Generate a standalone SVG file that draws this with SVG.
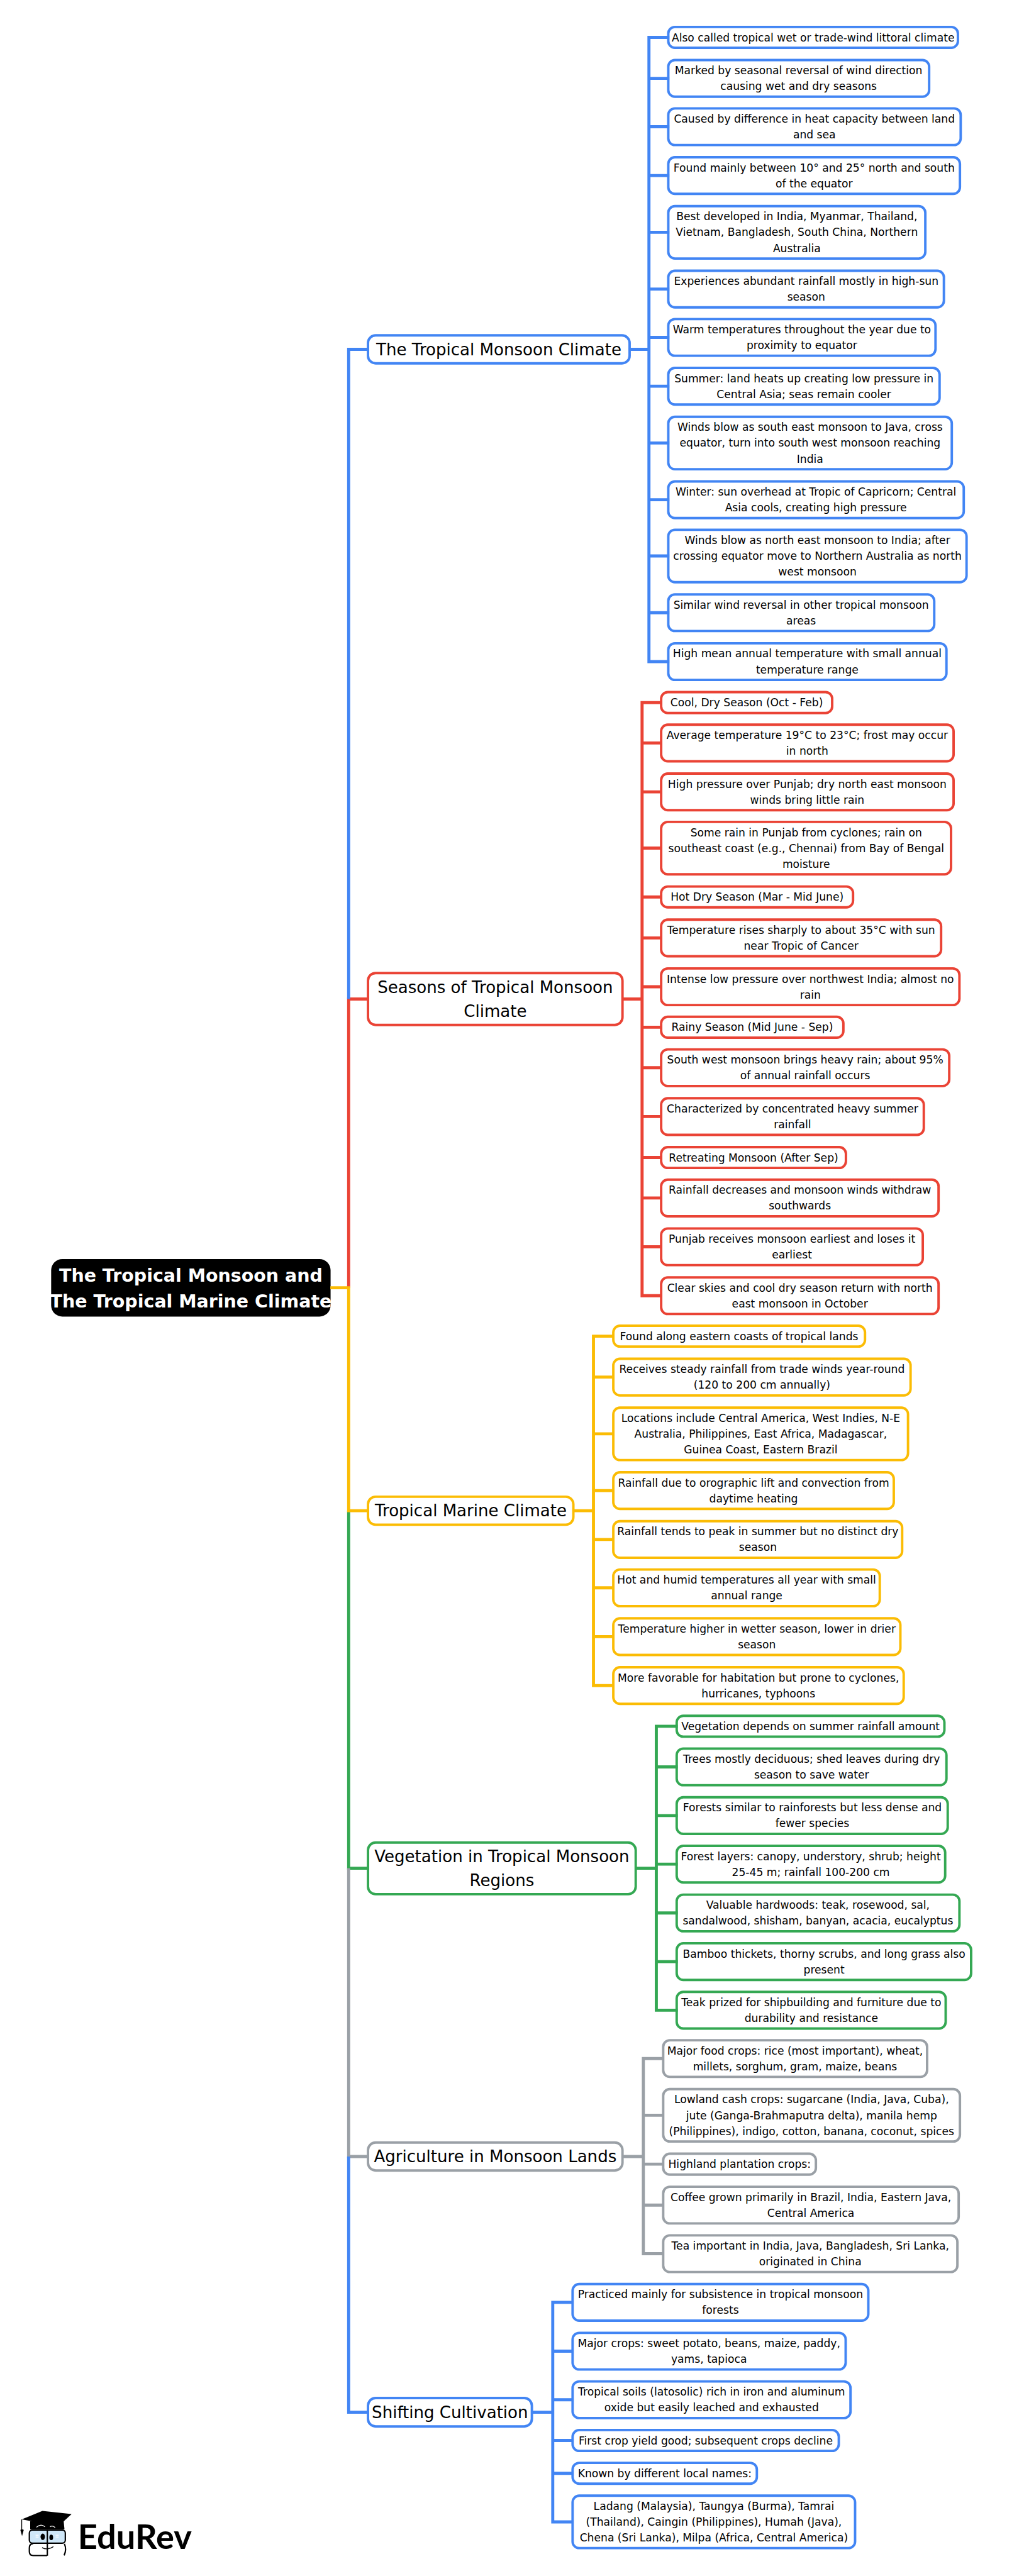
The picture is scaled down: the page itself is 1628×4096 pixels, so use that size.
<svg xmlns="http://www.w3.org/2000/svg" width="1628" height="4096" viewBox="0 0 1628 4096">
<style>
text{font-family:"DejaVu Sans","Liberation Sans",sans-serif;fill:#000;text-anchor:middle}
.s{font-size:21.2px}
.m{font-size:32.2px}
.rt{font-size:35.2px;font-weight:700;fill:#fff}
.lg{font-family:Lato,"Open Sans",sans-serif;font-size:67px;font-weight:700;text-anchor:start}
rect{fill:#fff;stroke-width:4.8}
.b rect{stroke:#4285F4}.r rect{stroke:#EA4335}.y rect{stroke:#FBBC04}.g rect{stroke:#34A853}.a rect{stroke:#9AA0A6}
#connectors path{fill:none;stroke-width:6;stroke-linejoin:miter}
.cb{stroke:#4285F4}.cr{stroke:#EA4335}.cy{stroke:#FBBC04}.cg{stroke:#34A853}.ca{stroke:#9AA0A6}
</style>
<rect width="1628" height="4096" style="fill:#fff;stroke:none"/>
<g transform="scale(.8092)">
<g id="root"><rect x="100.5" y="2474" width="549" height="113" rx="22" style="fill:#000;stroke:none"/><text class="rt" x="375" y="2518"><tspan x="375">The Tropical Monsoon and</tspan><tspan x="375" dy="51.5">The Tropical Marine Climate</tspan></text></g>

<g class="b">
<g id="monsoon"><rect x="723" y="659" width="514" height="55" rx="15"/><text class="m" x="980" y="698">The Tropical Monsoon Climate</text></g>
<g id="b1"><rect x="1313" y="53" width="569" height="41" rx="13"/><text class="s" x="1597.5" y="81">Also called tropical wet or trade-wind littoral climate</text></g>
<g id="b2"><rect x="1313" y="118" width="512.5" height="72" rx="13"/><text class="s" y="146"><tspan x="1569">Marked by seasonal reversal of wind direction</tspan><tspan x="1569" dy="31">causing wet and dry seasons</tspan></text></g>
<g id="b3"><rect x="1313" y="213" width="574.5" height="72" rx="13"/><text class="s" y="241"><tspan x="1600">Caused by difference in heat capacity between land</tspan><tspan x="1600" dy="31">and sea</tspan></text></g>
<g id="b4"><rect x="1313" y="309" width="573" height="72" rx="13"/><text class="s" y="337"><tspan x="1599.5">Found mainly between 10° and 25° north and south</tspan><tspan x="1599.5" dy="31">of the equator</tspan></text></g>
<g id="b5"><rect x="1313" y="405" width="505" height="103" rx="13"/><text class="s" y="433"><tspan x="1565.5">Best developed in India, Myanmar, Thailand,</tspan><tspan x="1565.5" dy="31">Vietnam, Bangladesh, South China, Northern</tspan><tspan x="1565.5" dy="31">Australia</tspan></text></g>
<g id="b6"><rect x="1313" y="532" width="541.5" height="72" rx="13"/><text class="s" y="560"><tspan x="1584">Experiences abundant rainfall mostly in high-sun</tspan><tspan x="1584" dy="31">season</tspan></text></g>
<g id="b7"><rect x="1313" y="627" width="525" height="72" rx="13"/><text class="s" y="655"><tspan x="1575.5">Warm temperatures throughout the year due to</tspan><tspan x="1575.5" dy="31">proximity to equator</tspan></text></g>
<g id="b8"><rect x="1313" y="723" width="533" height="72" rx="13"/><text class="s" y="751"><tspan x="1579.5">Summer: land heats up creating low pressure in</tspan><tspan x="1579.5" dy="31">Central Asia; seas remain cooler</tspan></text></g>
<g id="b9"><rect x="1313" y="819" width="557" height="103" rx="13"/><text class="s" y="847"><tspan x="1591.5">Winds blow as south east monsoon to Java, cross</tspan><tspan x="1591.5" dy="31">equator, turn into south west monsoon reaching</tspan><tspan x="1591.5" dy="31">India</tspan></text></g>
<g id="b10"><rect x="1313" y="946" width="580.5" height="72" rx="13"/><text class="s" y="974"><tspan x="1603">Winter: sun overhead at Tropic of Capricorn; Central</tspan><tspan x="1603" dy="31">Asia cools, creating high pressure</tspan></text></g>
<g id="b11"><rect x="1313" y="1041" width="586" height="103" rx="13"/><text class="s" y="1069"><tspan x="1606">Winds blow as north east monsoon to India; after</tspan><tspan x="1606" dy="31">crossing equator move to Northern Australia as north</tspan><tspan x="1606" dy="31">west monsoon</tspan></text></g>
<g id="b12"><rect x="1313" y="1168" width="522.5" height="72" rx="13"/><text class="s" y="1196"><tspan x="1574">Similar wind reversal in other tropical monsoon</tspan><tspan x="1574" dy="31">areas</tspan></text></g>
<g id="b13"><rect x="1313" y="1264" width="546.5" height="72" rx="13"/><text class="s" y="1292"><tspan x="1586">High mean annual temperature with small annual</tspan><tspan x="1586" dy="31">temperature range</tspan></text></g>
</g>

<g class="r">
<g id="seasons"><rect x="723" y="1912" width="500" height="102" rx="15"/><text class="m" y="1951"><tspan x="973">Seasons of Tropical Monsoon</tspan><tspan x="973" dy="47">Climate</tspan></text></g>
<g id="r1"><rect x="1299" y="1360" width="336" height="41" rx="13"/><text class="s" x="1467" y="1388">Cool, Dry Season (Oct - Feb)</text></g>
<g id="r2"><rect x="1299" y="1424" width="574.5" height="72" rx="13"/><text class="s" y="1452"><tspan x="1586">Average temperature 19°C to 23°C; frost may occur</tspan><tspan x="1586" dy="31">in north</tspan></text></g>
<g id="r3"><rect x="1299" y="1520" width="574.5" height="72" rx="13"/><text class="s" y="1548"><tspan x="1586">High pressure over Punjab; dry north east monsoon</tspan><tspan x="1586" dy="31">winds bring little rain</tspan></text></g>
<g id="r4"><rect x="1299" y="1615" width="569.5" height="103" rx="13"/><text class="s" y="1643"><tspan x="1584">Some rain in Punjab from cyclones; rain on</tspan><tspan x="1584" dy="31">southeast coast (e.g., Chennai) from Bay of Bengal</tspan><tspan x="1584" dy="31">moisture</tspan></text></g>
<g id="r5"><rect x="1299" y="1742" width="377" height="41" rx="13"/><text class="s" x="1487.5" y="1770">Hot Dry Season (Mar - Mid June)</text></g>
<g id="r6"><rect x="1299" y="1807" width="550" height="72" rx="13"/><text class="s" y="1835"><tspan x="1574">Temperature rises sharply to about 35°C with sun</tspan><tspan x="1574" dy="31">near Tropic of Cancer</tspan></text></g>
<g id="r7"><rect x="1299" y="1903" width="586" height="72" rx="13"/><text class="s" y="1931"><tspan x="1592">Intense low pressure over northwest India; almost no</tspan><tspan x="1592" dy="31">rain</tspan></text></g>
<g id="r8"><rect x="1299" y="1998" width="358" height="41" rx="13"/><text class="s" x="1478" y="2026">Rainy Season (Mid June - Sep)</text></g>
<g id="r9"><rect x="1299" y="2062" width="566" height="72" rx="13"/><text class="s" y="2090"><tspan x="1582">South west monsoon brings heavy rain; about 95%</tspan><tspan x="1582" dy="31">of annual rainfall occurs</tspan></text></g>
<g id="r10"><rect x="1299" y="2158" width="516" height="72" rx="13"/><text class="s" y="2186"><tspan x="1557">Characterized by concentrated heavy summer</tspan><tspan x="1557" dy="31">rainfall</tspan></text></g>
<g id="r11"><rect x="1299" y="2254" width="363" height="41" rx="13"/><text class="s" x="1480.5" y="2282">Retreating Monsoon (After Sep)</text></g>
<g id="r12"><rect x="1299" y="2318" width="545" height="72" rx="13"/><text class="s" y="2346"><tspan x="1571.5">Rainfall decreases and monsoon winds withdraw</tspan><tspan x="1571.5" dy="31">southwards</tspan></text></g>
<g id="r13"><rect x="1299" y="2414" width="514" height="72" rx="13"/><text class="s" y="2442"><tspan x="1556">Punjab receives monsoon earliest and loses it</tspan><tspan x="1556" dy="31">earliest</tspan></text></g>
<g id="r14"><rect x="1299" y="2510" width="545" height="72" rx="13"/><text class="s" y="2538"><tspan x="1571.5">Clear skies and cool dry season return with north</tspan><tspan x="1571.5" dy="31">east monsoon in October</tspan></text></g>
</g>

<g class="y">
<g id="marine"><rect x="723" y="2941" width="403.5" height="55" rx="15"/><text class="m" x="925" y="2980">Tropical Marine Climate</text></g>
<g id="y1"><rect x="1205" y="2605" width="494.5" height="41" rx="13"/><text class="s" x="1452" y="2633">Found along eastern coasts of tropical lands</text></g>
<g id="y2"><rect x="1205" y="2670" width="584" height="72" rx="13"/><text class="s" y="2698"><tspan x="1497">Receives steady rainfall from trade winds year-round</tspan><tspan x="1497" dy="31">(120 to 200 cm annually)</tspan></text></g>
<g id="y3"><rect x="1205" y="2766" width="579" height="103" rx="13"/><text class="s" y="2794"><tspan x="1494.5">Locations include Central America, West Indies, N-E</tspan><tspan x="1494.5" dy="31">Australia, Philippines, East Africa, Madagascar,</tspan><tspan x="1494.5" dy="31">Guinea Coast, Eastern Brazil</tspan></text></g>
<g id="y4"><rect x="1205" y="2893" width="551" height="72" rx="13"/><text class="s" y="2921"><tspan x="1480.5">Rainfall due to orographic lift and convection from</tspan><tspan x="1480.5" dy="31">daytime heating</tspan></text></g>
<g id="y5"><rect x="1205" y="2989" width="567.5" height="72" rx="13"/><text class="s" y="3017"><tspan x="1489">Rainfall tends to peak in summer but no distinct dry</tspan><tspan x="1489" dy="31">season</tspan></text></g>
<g id="y6"><rect x="1205" y="3084" width="523.5" height="72" rx="13"/><text class="s" y="3112"><tspan x="1467">Hot and humid temperatures all year with small</tspan><tspan x="1467" dy="31">annual range</tspan></text></g>
<g id="y7"><rect x="1205" y="3180" width="564" height="72" rx="13"/><text class="s" y="3208"><tspan x="1487">Temperature higher in wetter season, lower in drier</tspan><tspan x="1487" dy="31">season</tspan></text></g>
<g id="y8"><rect x="1205" y="3276" width="570.5" height="72" rx="13"/><text class="s" y="3304"><tspan x="1490">More favorable for habitation but prone to cyclones,</tspan><tspan x="1490" dy="31">hurricanes, typhoons</tspan></text></g>
</g>

<g class="g">
<g id="vegetation"><rect x="723" y="3620.5" width="526" height="101.5" rx="15"/><text class="m" y="3659"><tspan x="986">Vegetation in Tropical Monsoon</tspan><tspan x="986" dy="47">Regions</tspan></text></g>
<g id="g1"><rect x="1329.5" y="3371.5" width="526" height="41" rx="13"/><text class="s" x="1592.5" y="3399.5">Vegetation depends on summer rainfall amount</text></g>
<g id="g2"><rect x="1329.5" y="3436" width="530" height="72" rx="13"/><text class="s" y="3464"><tspan x="1594.5">Trees mostly deciduous; shed leaves during dry</tspan><tspan x="1594.5" dy="31">season to save water</tspan></text></g>
<g id="g3"><rect x="1329.5" y="3531.5" width="532.5" height="72" rx="13"/><text class="s" y="3559.5"><tspan x="1596">Forests similar to rainforests but less dense and</tspan><tspan x="1596" dy="31">fewer species</tspan></text></g>
<g id="g4"><rect x="1329.5" y="3627" width="527.5" height="72" rx="13"/><text class="s" y="3655"><tspan x="1593">Forest layers: canopy, understory, shrub; height</tspan><tspan x="1593" dy="31">25-45 m; rainfall 100-200 cm</tspan></text></g>
<g id="g5"><rect x="1329.5" y="3723" width="555.5" height="72" rx="13"/><text class="s" y="3751"><tspan x="1607">Valuable hardwoods: teak, rosewood, sal,</tspan><tspan x="1607" dy="31">sandalwood, shisham, banyan, acacia, eucalyptus</tspan></text></g>
<g id="g6"><rect x="1329.5" y="3818.5" width="578.5" height="72" rx="13"/><text class="s" y="3846.5"><tspan x="1619">Bamboo thickets, thorny scrubs, and long grass also</tspan><tspan x="1619" dy="31">present</tspan></text></g>
<g id="g7"><rect x="1329.5" y="3914" width="528.5" height="72" rx="13"/><text class="s" y="3942"><tspan x="1594">Teak prized for shipbuilding and furniture due to</tspan><tspan x="1594" dy="31">durability and resistance</tspan></text></g>
</g>

<g class="a">
<g id="agriculture"><rect x="723" y="4210" width="500" height="55" rx="15"/><text class="m" x="973" y="4249">Agriculture in Monsoon Lands</text></g>
<g id="a1"><rect x="1303" y="4009" width="518.5" height="72" rx="13"/><text class="s" y="4037"><tspan x="1562">Major food crops: rice (most important), wheat,</tspan><tspan x="1562" dy="31">millets, sorghum, gram, maize, beans</tspan></text></g>
<g id="a2"><rect x="1303" y="4105" width="583" height="103" rx="13"/><text class="s" y="4133"><tspan x="1594.5">Lowland cash crops: sugarcane (India, Java, Cuba),</tspan><tspan x="1594.5" dy="31">jute (Ganga-Brahmaputra delta), manila hemp</tspan><tspan x="1594.5" dy="31">(Philippines), indigo, cotton, banana, coconut, spices</tspan></text></g>
<g id="a3"><rect x="1303" y="4232" width="300" height="41" rx="13"/><text class="s" x="1453" y="4260">Highland plantation crops:</text></g>
<g id="a4"><rect x="1303" y="4297" width="580.5" height="72" rx="13"/><text class="s" y="4325"><tspan x="1593">Coffee grown primarily in Brazil, India, Eastern Java,</tspan><tspan x="1593" dy="31">Central America</tspan></text></g>
<g id="a5"><rect x="1303" y="4392.5" width="578" height="72" rx="13"/><text class="s" y="4420.5"><tspan x="1592">Tea important in India, Java, Bangladesh, Sri Lanka,</tspan><tspan x="1592" dy="31">originated in China</tspan></text></g>
</g>

<g class="b">
<g id="shifting"><rect x="723" y="4712" width="322" height="56" rx="15"/><text class="m" x="884" y="4751.5">Shifting Cultivation</text></g>
<g id="s1"><rect x="1125" y="4488" width="581" height="72" rx="13"/><text class="s" y="4516"><tspan x="1415.5">Practiced mainly for subsistence in tropical monsoon</tspan><tspan x="1415.5" dy="31">forests</tspan></text></g>
<g id="s2"><rect x="1125" y="4584" width="536.5" height="72" rx="13"/><text class="s" y="4612"><tspan x="1393">Major crops: sweet potato, beans, maize, paddy,</tspan><tspan x="1393" dy="31">yams, tapioca</tspan></text></g>
<g id="s3"><rect x="1125" y="4679.5" width="546" height="72" rx="13"/><text class="s" y="4707.5"><tspan x="1398">Tropical soils (latosolic) rich in iron and aluminum</tspan><tspan x="1398" dy="31">oxide but easily leached and exhausted</tspan></text></g>
<g id="s4"><rect x="1125" y="4775" width="523" height="41" rx="13"/><text class="s" x="1386.5" y="4803">First crop yield good; subsequent crops decline</text></g>
<g id="s5"><rect x="1125" y="4839.5" width="362" height="41" rx="13"/><text class="s" x="1306" y="4867.5">Known by different local names:</text></g>
<g id="s6"><rect x="1125" y="4904" width="555" height="103" rx="13"/><text class="s" y="4932"><tspan x="1402.5">Ladang (Malaysia), Taungya (Burma), Tamrai</tspan><tspan x="1402.5" dy="31">(Thailand), Caingin (Philippines), Humah (Java),</tspan><tspan x="1402.5" dy="31">Chena (Sri Lanka), Milpa (Africa, Central America)</tspan></text></g>
</g>

<g id="connectors">
<path class="cr" d="M685 2530.5V1963H725"/>
<path class="cb" d="M685 1963V686.5H725"/>
<path class="cg" d="M685 2968.5V3671H725"/>
<path class="ca" d="M685 3671V4237.5H725"/>
<path class="cb" d="M685 4237.5V4740H725"/>
<path class="cy" d="M649 2530.5H685V2968.5H725"/>
<path class="cb" d="M1235 686.5H1275M1315 73.5H1275V1300H1315M1275 154H1315M1275 249H1315M1275 345H1315M1275 456.5H1315M1275 568H1315M1275 663H1315M1275 759H1315M1275 870.5H1315M1275 982H1315M1275 1092.5H1315M1275 1204H1315"/>
<path class="cr" d="M1221 1963H1261.5M1301 1380.5H1261.5V2546H1301M1261.5 1460H1301M1261.5 1556H1301M1261.5 1666.5H1301M1261.5 1762.5H1301M1261.5 1843H1301M1261.5 1939H1301M1261.5 2018.5H1301M1261.5 2098H1301M1261.5 2194H1301M1261.5 2274.5H1301M1261.5 2354H1301M1261.5 2450H1301"/>
<path class="cy" d="M1124.5 2968.5H1166M1207 2625.5H1166V3312H1207M1166 2706H1207M1166 2817.5H1207M1166 2929H1207M1166 3025H1207M1166 3120H1207M1166 3216H1207"/>
<path class="cg" d="M1247 3671H1289.5M1331.5 3392H1289.5V3950H1331.5M1289.5 3472H1331.5M1289.5 3567.5H1331.5M1289.5 3663H1331.5M1289.5 3759H1331.5M1289.5 3854.5H1331.5"/>
<path class="ca" d="M1221 4237.5H1264M1305 4045H1264V4428.5H1305M1264 4156.5H1305M1264 4252.5H1305M1264 4333H1305"/>
<path class="cb" d="M1043 4740H1086M1127 4524H1086V4955.5H1127M1086 4620H1127M1086 4715.5H1127M1086 4795.5H1127M1086 4860H1127"/>
</g>

<g id="logo">
<g transform="translate(20 4910) scale(.3333)">
<path d="M118 132V180H320L315 128Z" fill="#000"/>
<path d="M68 122L190 72L362 90L285 162Z" fill="#000"/>
<path d="M68 122V182" stroke="#000" stroke-width="5" fill="none"/>
<path d="M60 184Q70 176 80 184L70 220Z" fill="#000"/>
<path d="M155 168Q180 145 205 165M235 165Q250 155 265 170" stroke="#fff" stroke-width="5" fill="none"/>
<rect x="113" y="184" width="212" height="78" rx="18" style="fill:#cfe7f8;stroke:#000;stroke-width:8"/>
<path d="M135 265Q113 265 113 290V312Q113 335 135 335H218M320 266Q334 300 318 334" stroke="#000" stroke-width="8" fill="none"/>
<path d="M219 180V336" stroke="#000" stroke-width="8" fill="none"/>
<ellipse cx="192" cy="224" rx="13" ry="19" fill="#000"/>
<ellipse cx="242" cy="228" rx="11" ry="16" fill="#000"/>
<path d="M150 215h18M150 226h18M268 215h18M268 226h18" stroke="#fff" stroke-width="5" fill="none"/>
<path d="M188 288Q220 306 255 282" stroke="#000" stroke-width="5" fill="none"/>
</g>
<text class="lg" x="153" y="5009">EduRev</text>
</g>
</g>
</svg>
